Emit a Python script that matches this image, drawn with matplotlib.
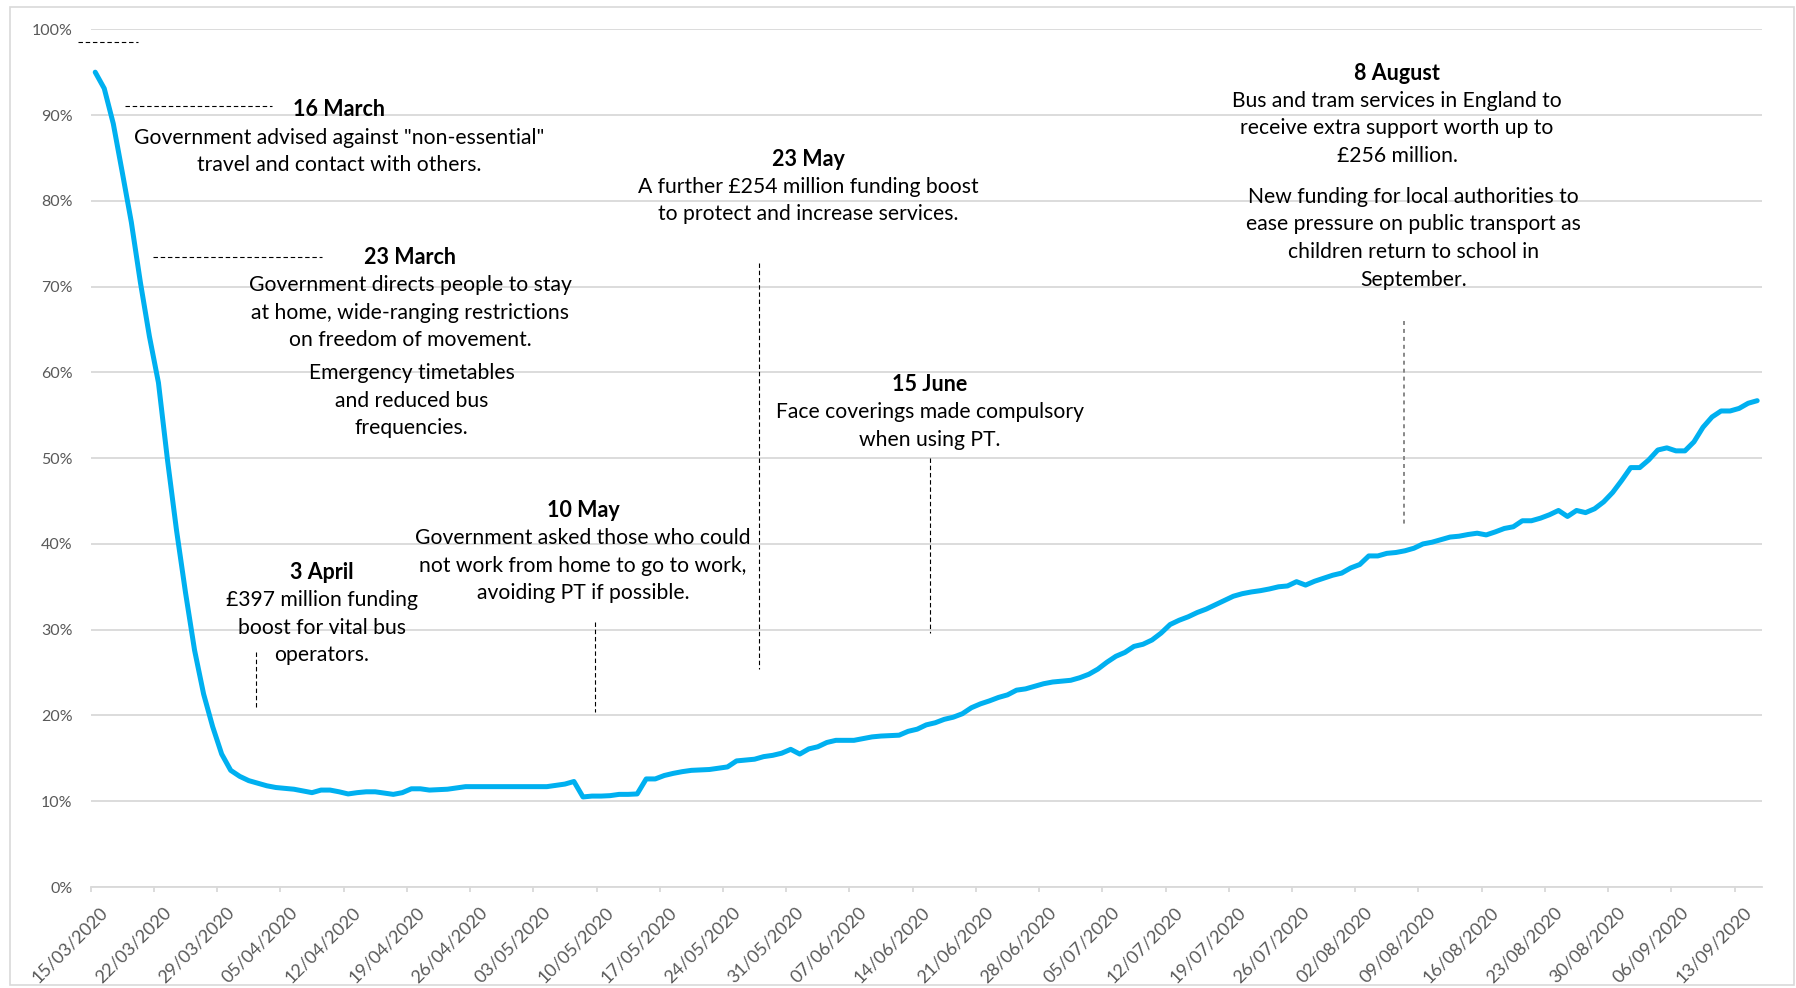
import matplotlib
matplotlib.use("Agg")
import matplotlib.pyplot as plt
import matplotlib.dates as mdates
from matplotlib.lines import Line2D
from matplotlib.patches import Rectangle
from matplotlib.transforms import ScaledTranslation
from matplotlib.ticker import FuncFormatter, MultipleLocator
import pandas as pd

# ---------------- data (share of pre-COVID bus use, %) ----------------
start_date = "2020-03-15"
march = [95.0, 93.1, 89.0, 83.3, 77.5, 70.5, 64.2, 58.8, 49.8, 41.6, 34.3, 27.6,
         22.5, 18.7, 15.5, 13.6, 12.9]
april = [12.4, 12.1, 11.8, 11.6, 11.5, 11.4, 11.2, 11.0, 11.3, 11.3, 11.1, 10.85,
         11.0, 11.1, 11.1, 10.95, 10.8, 11.0, 11.45, 11.45, 11.3, 11.35, 11.4, 11.55,
         11.7, 11.7, 11.7, 11.7, 11.7, 11.7]
may = [11.7, 11.7, 11.7, 11.7, 11.85, 12.0, 12.3, 10.5, 10.6, 10.6, 10.65, 10.8,
       10.8, 10.85, 12.6, 12.6, 13.0, 13.25, 13.45, 13.6, 13.65, 13.7, 13.85, 14.0,
       14.7, 14.8, 14.9, 15.2, 15.35, 15.6, 16.05]
june = [15.5, 16.1, 16.35, 16.85, 17.1, 17.1, 17.1, 17.3, 17.5, 17.6, 17.65, 17.7,
        18.15, 18.4, 18.9, 19.15, 19.55, 19.8, 20.2, 20.9, 21.35, 21.7, 22.1, 22.4,
        22.95, 23.1, 23.4, 23.7, 23.9, 24.0]
july = [24.1, 24.4, 24.8, 25.4, 26.2, 26.9, 27.35, 28.05, 28.3, 28.8, 29.6, 30.6,
        31.1, 31.5, 32.0, 32.4, 32.9, 33.4, 33.9, 34.2, 34.4, 34.55, 34.75, 35.0,
        35.1, 35.6, 35.2, 35.65, 36.0, 36.35, 36.6]
august = [37.2, 37.6, 38.6, 38.6, 38.9, 39.0, 39.2, 39.5, 40.0, 40.2, 40.5, 40.8,
          40.9, 41.1, 41.25, 41.05, 41.4, 41.8, 42.0, 42.7, 42.7, 43.0, 43.4, 43.9,
          43.2, 43.9, 43.65, 44.1, 44.9, 46.0, 47.4]
september = [48.9, 48.9, 49.8, 50.95, 51.2, 50.85, 50.85, 51.9, 53.6, 54.8, 55.5,
             55.5, 55.8, 56.4, 56.7]

values = march + april + may + june + july + august + september
dates = pd.date_range(start_date, periods=len(values), freq="D")

annotations = [
    ("16 March", ['Government advised against "non-essential"',
                  "travel and contact with others."]),
    ("23 March", ["Government directs people to stay",
                  "at home, wide-ranging restrictions",
                  "on freedom of movement."]),
    ("3 April", ["£397 million funding", "boost for vital bus", "operators."]),
    ("10 May", ["Government asked those who could",
                "not work from home to go to work,",
                "avoiding PT if possible."]),
    ("23 May", ["A further £254 million funding boost",
                "to protect and increase services."]),
    ("15 June", ["Face coverings made compulsory", "when using PT."]),
    ("8 August", ["Bus and tram services in England to",
                  "receive extra support worth up to",
                  "£256 million."]),
]
extra_notes = [
    ["Emergency timetables", "and reduced bus", "frequencies."],
    ["New funding for local authorities to",
     "ease pressure on public transport as",
     "children return to school in", "September."],
]

# ---------------- figure ----------------
W, H = 1796, 988
DPI = 100
plt.rcParams["font.family"] = ["Lato", "DejaVu Sans"]
fig = plt.figure(figsize=(W / DPI, H / DPI), dpi=DPI)
fig.patch.set_facecolor("white")


def fx(x):
    return x / W


def fy(y):
    return 1 - y / H


# outer chart-area frame
fig.add_artist(Rectangle((fx(10), fy(985)), fx(1794) - fx(10), fy(7) - fy(985),
                         transform=fig.transFigure, fill=False,
                         edgecolor="#d9d9d9", lw=1.2))

ax_left, ax_right, ax_top, ax_bottom = 90.7, 1761.7, 29.3, 887.0
ax = fig.add_axes([fx(ax_left), fy(ax_bottom), fx(ax_right) - fx(ax_left),
                   fy(ax_top) - fy(ax_bottom)])

x_plot = dates + pd.Timedelta(hours=12)
ax.plot(x_plot, values, color="#00b0f0", lw=3.6, solid_joinstyle="round",
        solid_capstyle="round", zorder=3)

ax.set_xlim(dates[0], dates[-1] + pd.Timedelta(days=1))
ax.set_ylim(0, 100)

ax.set_xticks(pd.date_range(start_date, dates[-1], freq="7D"))
ax.xaxis.set_major_formatter(mdates.DateFormatter("%d/%m/%Y"))
ax.yaxis.set_major_locator(MultipleLocator(10))
ax.yaxis.set_major_formatter(FuncFormatter(lambda v, p: f"{v:.0f}%"))

ax.grid(axis="y", color="#d9d9d9", lw=1.3)
ax.set_axisbelow(True)
for side in ["top", "right", "left"]:
    ax.spines[side].set_visible(False)
ax.spines["bottom"].set_color("#d9d9d9")
ax.spines["bottom"].set_linewidth(1.3)

ax.tick_params(axis="y", length=0, pad=13, labelsize=11.5, labelcolor="#595959")
ax.tick_params(axis="x", length=3.6, width=1.3, color="#d9d9d9", pad=8.5,
               labelsize=13, labelcolor="#595959")
offset = ScaledTranslation(9 / DPI, 0, fig.dpi_scale_trans)
for lab in ax.get_xticklabels():
    lab.set_rotation(45)
    lab.set_ha("right")
    lab.set_va("top")
    lab.set_rotation_mode("anchor")
    lab.set_transform(lab.get_transform() + offset)

# ---------------- annotation text ----------------
title_pos = [(339, 110), (410, 257.7), (322, 572.7), (583, 510.8),
             (808.6, 159.2), (930, 384.8), (1397, 73.3)]
line_gap = 27.5
FS = 15.2
for (title, body), (cx, ty) in zip(annotations, title_pos):
    fig.text(fx(cx), fy(ty), title, ha="center", va="center", fontsize=FS + 0.3,
             fontweight="bold", color="black")
    for i, line in enumerate(body):
        fig.text(fx(cx), fy(ty + line_gap * (i + 1)), line, ha="center",
                 va="center", fontsize=FS, color="black")

extra_pos = [(411.8, 373.4), (1413.4, 197.0)]
for body, (cx, y0) in zip(extra_notes, extra_pos):
    for i, line in enumerate(body):
        fig.text(fx(cx), fy(y0 + line_gap * i), line, ha="center", va="center",
                 fontsize=FS, color="black")

# ---------------- dashed leader lines ----------------
dash_black = dict(color="black", lw=0.8, linestyle=(0, (4, 2.5)))
leaders = [
    ((78, 138), (42.3, 42.3)),
    ((125, 272), (106, 106)),
    ((153, 322), (256.7, 256.7)),
    ((256, 256), (651.7, 706.7)),
    ((595, 595), (621.7, 711.7)),
    ((758.5, 758.5), (263, 669)),
    ((930.4, 930.4), (458, 633)),
]
for xs, ys in leaders:
    fig.add_artist(Line2D([fx(v) for v in xs], [fy(v) for v in ys],
                          transform=fig.transFigure, **dash_black))
fig.add_artist(Line2D([fx(1404), fx(1404)], [fy(320.7), fy(526.7)],
                      transform=fig.transFigure, color="#7f7f7f", lw=1.3,
                      linestyle=(0, (2.2, 2.2))))

fig.savefig("out.png", dpi=DPI, facecolor="white")
